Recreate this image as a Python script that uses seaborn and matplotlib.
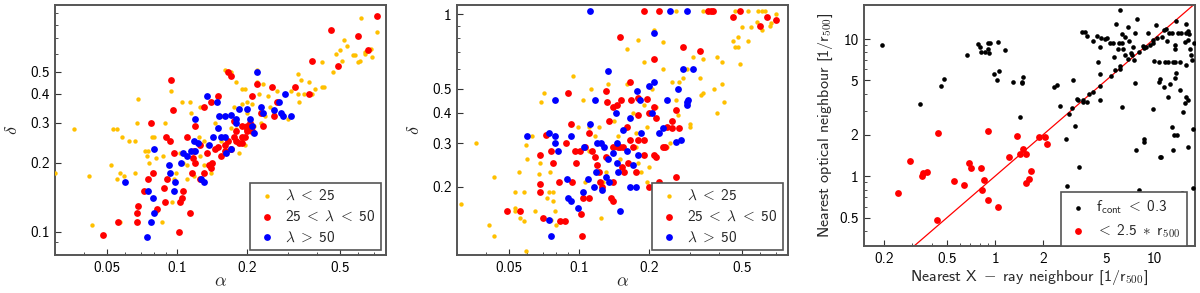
import numpy as np
import pandas as pd
import matplotlib
matplotlib.use("Agg")
import matplotlib.pyplot as plt
import seaborn as sns
from matplotlib.ticker import FixedLocator, FixedFormatter, LogLocator, NullFormatter

# ---------------- data ----------------
# Panel 1 (alpha vs delta)
p1_low_alpha = [0.030,0.036,0.042,0.043,0.053,0.055,0.052,0.055,0.057,0.059,0.058,0.057,0.062,0.066,0.067,0.068,0.066,0.073,0.075,0.074,0.078,0.080,0.076,0.081,0.089,0.086,0.095,0.081,0.087,0.094,0.105,0.114,0.115,0.125,0.099,0.103,0.106,0.110,0.12,0.124,0.125,0.135,0.14,0.145,0.155,0.155,0.16,0.16,0.17,0.17,0.18,0.19,0.195,0.175,0.19,0.2,0.2,0.21,0.21,0.22,0.22,0.225,0.235,0.245,0.25,0.26,0.27,0.30,0.31,0.33,0.33,0.34,0.335,0.35,0.37,0.38,0.39,0.42,0.42,0.43,0.47,0.48,0.50,0.51,0.52,0.54,0.57,0.58,0.60,0.61,0.62,0.64,0.64,0.68,0.69,0.72,0.13,0.15,0.17,0.18,0.19,0.195,0.165,0.185,0.125,0.13,0.14,0.11,0.118,0.097,0.215,0.23,0.24,0.21]
p1_low_delta = [0.18,0.28,0.175,0.107,0.28,0.28,0.195,0.17,0.18,0.175,0.26,0.11,0.25,0.25,0.30,0.38,0.18,0.225,0.225,0.215,0.26,0.26,0.20,0.21,0.30,0.11,0.135,0.122,0.215,0.41,0.37,0.37,0.33,0.35,0.18,0.22,0.20,0.195,0.20,0.26,0.24,0.24,0.37,0.30,0.32,0.25,0.23,0.51,0.50,0.48,0.45,0.42,0.42,0.35,0.36,0.37,0.33,0.39,0.36,0.45,0.51,0.40,0.44,0.39,0.35,0.33,0.41,0.31,0.41,0.40,0.49,0.46,0.37,0.40,0.45,0.40,0.42,0.55,0.43,0.43,0.50,0.60,0.62,0.56,0.69,0.65,0.59,0.59,0.55,0.56,0.86,0.60,0.61,0.63,0.58,0.75,0.25,0.28,0.285,0.28,0.25,0.24,0.225,0.22,0.215,0.195,0.18,0.17,0.175,0.17,0.29,0.30,0.32,0.27]
p1_mid_alpha = [0.048,0.056,0.067,0.067,0.068,0.072,0.075,0.077,0.079,0.082,0.088,0.089,0.090,0.091,0.093,0.094,0.096,0.097,0.102,0.103,0.105,0.106,0.11,0.114,0.116,0.117,0.12,0.12,0.125,0.13,0.13,0.14,0.14,0.145,0.15,0.155,0.16,0.165,0.17,0.165,0.175,0.18,0.185,0.19,0.195,0.2,0.205,0.21,0.22,0.23,0.235,0.255,0.26,0.27,0.32,0.37,0.38,0.46,0.49,0.60,0.66,0.72,0.15,0.16,0.17,0.18,0.19,0.2,0.2,0.21,0.21,0.125,0.118,0.135,0.142,0.137,0.19,0.175]
p1_mid_delta = [0.097,0.11,0.12,0.11,0.13,0.15,0.17,0.30,0.18,0.125,0.155,0.135,0.26,0.17,0.25,0.46,0.34,0.22,0.10,0.135,0.14,0.15,0.26,0.12,0.18,0.21,0.20,0.29,0.17,0.35,0.18,0.19,0.37,0.23,0.39,0.215,0.24,0.50,0.48,0.25,0.26,0.275,0.245,0.29,0.26,0.275,0.30,0.39,0.44,0.33,0.29,0.43,0.32,0.37,0.43,0.40,0.56,0.76,0.53,0.72,0.62,0.88,0.235,0.225,0.23,0.25,0.26,0.28,0.29,0.29,0.275,0.24,0.225,0.22,0.20,0.195,0.245,0.305]
p1_high_alpha = [0.074,0.075,0.077,0.079,0.080,0.080,0.060,0.092,0.093,0.097,0.098,0.104,0.106,0.11,0.115,0.118,0.12,0.12,0.123,0.127,0.13,0.135,0.137,0.143,0.15,0.152,0.155,0.16,0.16,0.163,0.17,0.17,0.18,0.18,0.185,0.2,0.205,0.21,0.215,0.22,0.23,0.235,0.26,0.275,0.28,0.285,0.29,0.31,0.148]
p1_high_delta = [0.095,0.15,0.11,0.14,0.23,0.12,0.165,0.195,0.18,0.15,0.165,0.20,0.22,0.215,0.225,0.25,0.31,0.225,0.245,0.17,0.165,0.39,0.24,0.26,0.285,0.32,0.26,0.32,0.26,0.22,0.325,0.23,0.31,0.30,0.345,0.345,0.31,0.29,0.27,0.50,0.35,0.33,0.34,0.37,0.33,0.32,0.40,0.32,0.37]

# Panel 2 (alpha vs delta, second estimator)
p2_low_alpha = [0.031,0.036,0.041,0.043,0.043,0.055,0.053,0.053,0.053,0.056,0.058,0.058,0.059,0.060,0.063,0.065,0.067,0.068,0.071,0.069,0.073,0.074,0.075,0.077,0.077,0.079,0.076,0.080,0.059,0.094,0.099,0.104,0.11,0.11,0.113,0.106,0.117,0.122,0.124,0.127,0.13,0.133,0.138,0.142,0.147,0.15,0.155,0.16,0.16,0.165,0.17,0.175,0.175,0.18,0.18,0.185,0.19,0.19,0.195,0.195,0.2,0.205,0.21,0.215,0.23,0.23,0.24,0.24,0.245,0.25,0.26,0.265,0.27,0.28,0.29,0.30,0.30,0.31,0.33,0.335,0.34,0.34,0.38,0.39,0.39,0.41,0.41,0.42,0.46,0.47,0.48,0.48,0.49,0.50,0.53,0.55,0.58,0.61,0.66,0.67,0.70,0.26,0.34,0.36,0.47,0.53,0.59,0.61,0.63]
p2_low_delta = [0.17,0.30,0.14,0.127,0.22,0.23,0.19,0.165,0.16,0.15,0.145,0.19,0.295,0.26,0.32,0.16,0.225,0.25,0.48,0.44,0.18,0.19,0.23,0.175,0.19,0.16,0.147,0.14,0.11,0.56,0.35,0.45,0.35,0.28,0.50,0.21,0.32,0.35,0.15,0.21,0.23,0.52,0.29,0.37,0.32,0.26,0.29,0.72,0.52,0.45,0.40,0.33,0.29,0.79,0.25,0.23,0.43,0.64,0.35,0.21,0.24,0.50,0.86,0.42,0.77,0.60,0.35,0.29,0.30,0.53,0.45,0.39,0.53,0.55,0.60,0.35,0.36,0.67,0.55,0.47,0.48,0.66,0.50,0.67,0.40,0.64,0.52,0.44,0.78,0.74,0.74,0.81,0.63,0.89,0.78,0.89,0.93,0.86,0.90,0.92,1.0,1.03,1.03,1.03,1.03,1.03,1.03,1.03,1.03]
p2_mid_alpha = [0.049,0.056,0.068,0.068,0.068,0.070,0.072,0.076,0.077,0.082,0.083,0.087,0.088,0.090,0.092,0.093,0.096,0.097,0.101,0.102,0.103,0.104,0.106,0.11,0.11,0.114,0.117,0.12,0.122,0.123,0.125,0.13,0.132,0.135,0.137,0.14,0.14,0.14,0.145,0.147,0.15,0.152,0.153,0.156,0.16,0.165,0.166,0.168,0.17,0.18,0.18,0.19,0.19,0.195,0.20,0.20,0.21,0.21,0.215,0.22,0.22,0.23,0.235,0.24,0.25,0.25,0.26,0.26,0.27,0.28,0.33,0.36,0.37,0.375,0.46,0.49,0.60,0.64,0.70,0.14,0.15,0.155,0.13,0.162,0.175,0.18,0.19,0.21,0.215]
p2_mid_delta = [0.16,0.16,0.27,0.205,0.19,0.15,0.325,0.28,0.25,0.21,0.145,0.145,0.30,0.48,0.36,0.21,0.28,0.25,0.28,0.155,0.127,0.18,0.29,0.33,0.18,0.28,0.265,0.245,0.23,0.21,0.20,0.49,0.44,0.37,0.18,0.175,0.21,0.42,0.43,0.29,0.81,0.45,0.24,0.23,0.35,0.53,0.31,0.45,0.29,0.46,0.39,1.03,0.27,0.455,0.40,0.20,0.42,0.66,0.38,1.03,0.21,0.29,0.29,0.35,0.345,0.37,0.41,0.22,0.345,0.74,0.71,1.03,1.03,1.03,0.97,1.03,0.90,0.97,0.95,0.29,0.29,0.29,0.265,0.25,0.23,0.31,0.31,0.27,0.265]
p2_high_alpha = [0.060,0.074,0.074,0.076,0.079,0.079,0.079,0.081,0.090,0.092,0.092,0.089,0.099,0.104,0.105,0.109,0.112,0.112,0.116,0.117,0.118,0.12,0.124,0.126,0.128,0.13,0.133,0.133,0.135,0.14,0.144,0.145,0.146,0.147,0.15,0.155,0.16,0.165,0.166,0.17,0.175,0.178,0.18,0.183,0.185,0.20,0.205,0.21,0.21,0.22,0.23,0.24,0.245,0.26,0.265,0.275,0.28,0.29,0.29,0.29,0.31,0.295]
p2_high_delta = [0.32,0.33,0.147,0.127,0.45,0.32,0.30,0.28,0.18,0.175,0.32,0.215,0.165,0.19,0.29,0.215,1.03,0.36,0.20,0.45,0.23,0.30,0.30,0.195,0.29,0.22,0.59,0.26,0.21,0.275,0.40,0.30,0.25,0.23,0.16,0.34,0.28,0.20,0.38,0.245,0.20,0.49,0.27,0.45,0.33,0.51,0.40,0.53,0.84,0.33,0.345,0.45,1.03,0.305,0.50,0.31,0.60,0.43,0.44,1.03,0.60,0.45]

# Panel 3 (nearest neighbours)
p3_all_xray = [0.196,0.338,0.458,0.48,0.665,0.786,0.80,0.816,0.866,0.90,0.90,0.93,0.92,0.99,1.03,1.05,1.06,1.16,1.29,1.43,1.47,1.48,1.50,2.34,2.44,2.56,2.78,2.82,2.9,3.06,3.1,3.2,3.3,3.33,3.38,3.53,3.67,3.8,3.8,3.6,4.15,4.15,4.4,4.45,4.55,4.6,4.55,4.6,4.67,4.9,5.05,5.27,5.5,5.6,5.75,5.9,6.0,6.1,6.15,6.25,6.25,6.3,6.4,6.6,6.6,6.85,7.0,7.15,7.3,7.4,7.5,7.6,7.6,7.8,7.75,8.0,8.1,8.5,8.6,8.7,8.7,8.9,9.2,9.4,9.8,9.8,9.8,10.0,10.3,10.5,10.7,10.8,10.9,10.9,11.1,11.3,11.5,11.6,11.7,11.9,12.0,12.2,12.3,12.4,12.7,12.9,13.0,13.1,13.2,13.4,13.5,13.5,13.6,13.6,13.7,13.8,14.0,14.1,14.5,14.5,14.7,15.0,15.2,15.6,15.7,15.8,16.0,16.0,16.0,16.3,16.4,16.4,16.4,16.6,16.9,17.1,17.4,17.6,17.7,17.8,6.9,6.1,5.4,5.7,3.6,3.9]
p3_all_optical = [9.0,3.35,4.55,5.1,7.7,9.2,8.7,8.0,8.0,9.3,8.5,9.3,7.9,5.6,5.0,9.5,5.8,8.3,4.9,2.7,4.9,4.8,5.3,4.45,4.65,3.24,1.86,0.85,2.86,3.12,5.0,2.31,3.63,3.6,1.16,11.2,11.3,10.6,3.45,3.5,4.13,9.6,10.6,6.8,8.7,5.55,4.55,3.6,10.1,10.0,10.1,9.4,9.4,7.4,12.9,8.4,9.4,16.4,6.05,3.17,10.9,9.4,8.4,10.3,7.7,12.3,9.6,7.9,7.7,8.8,7.05,4.75,11.1,14.1,1.54,0.79,8.0,8.9,8.6,1.77,1.88,8.8,11.1,9.1,9.3,9.8,3.1,6.9,12.7,10.1,6.85,4.9,5.1,1.38,1.38,10.3,4.5,11.6,6.85,11.9,9.6,3.8,6.85,11.1,4.7,11.1,2.29,6.85,1.54,1.99,9.1,6.85,5.2,8.4,13.5,5.7,1.99,11.1,6.85,4.25,11.1,0.76,2.95,9.45,3.4,6.5,12.9,11.1,3.8,1.63,3.6,9.8,11.4,10.9,8.4,7.7,7.05,2.22,0.82,9.35,7.2,6.4,5.4,5.95,3.6,3.95]
p3_close_xray = [0.245,0.29,0.345,0.35,0.375,0.43,0.44,0.55,0.64,0.69,0.71,0.82,0.83,0.85,0.90,0.90,1.04,1.23,1.38,1.43,1.50,1.56,1.56,1.64,1.68,1.89,2.06,2.13]
p3_close_optical = [0.75,1.29,1.0,1.06,1.07,0.48,2.07,0.92,0.87,1.25,1.15,1.15,0.79,0.94,2.14,0.67,0.60,1.39,1.97,1.44,1.57,1.44,0.89,0.96,1.09,1.93,1.93,1.71]

# labels and ticks
group_labels = [r"$\lambda\;<\;$25", r"25$\;<\;\lambda\;<\;$50", r"$\lambda\;>\;$50"]
p3_labels = [r"f$_\mathsf{cont}\;<\;$0.3", r"$<\;$2.5$\;\ast\;$r$_\mathsf{500}$"]
alpha_ticks = [0.05, 0.1, 0.2, 0.5]
alpha_ticklabels = ["0.05", "0.1", "0.2", "0.5"]
delta1_ticks = [0.1, 0.2, 0.3, 0.4, 0.5]
delta1_ticklabels = ["0.1", "0.2", "0.3", "0.4", "0.5"]
delta2_ticks = [0.2, 0.3, 0.4, 0.5, 1.0]
delta2_ticklabels = ["0.2", "0.3", "0.4", "0.5", "1"]
p3_xticks = [0.2, 0.5, 1, 2, 5, 10]
p3_xticklabels = ["0.2", "0.5", "1", "2", "5", "10"]
p3_yticks = [0.5, 1, 2, 5, 10]
p3_yticklabels = ["0.5", "1", "2", "5", "10"]

# ---------------- style ----------------
sns.set_style("ticks")
plt.rcParams["font.family"] = ["cmss10", "DejaVu Sans"]
plt.rcParams["mathtext.fontset"] = "cm"
plt.rcParams["axes.unicode_minus"] = False

C_YEL = "#FFC000"
C_RED = "#FF0000"
C_BLU = "#0000FF"
FRAME = "#555555"

fig = plt.figure(figsize=(12, 2.93), dpi=100)
ax1 = fig.add_axes([0.0458, 0.1297, 0.2758, 0.8533])
ax2 = fig.add_axes([0.3808, 0.1297, 0.2758, 0.8533])
ax3 = fig.add_axes([0.7200, 0.1604, 0.2758, 0.8225])


def style(ax, xlim, ylim, xt, xtl, yt, ytl):
    ax.set_xscale("log")
    ax.set_yscale("log")
    ax.set_xlim(*xlim)
    ax.set_ylim(*ylim)
    ax.xaxis.set_major_locator(FixedLocator(xt))
    ax.xaxis.set_major_formatter(FixedFormatter(xtl))
    ax.yaxis.set_major_locator(FixedLocator(yt))
    ax.yaxis.set_major_formatter(FixedFormatter(ytl))
    for a in (ax.xaxis, ax.yaxis):
        a.set_minor_locator(LogLocator(base=10, subs=np.arange(2, 10) * 1.0, numticks=50))
        a.set_minor_formatter(NullFormatter())
    ax.tick_params(which="both", direction="in", colors="#333333", labelcolor="black",
                   labelsize=11, top=False, right=False)
    ax.tick_params(which="major", length=4.5, width=0.8, pad=4)
    ax.tick_params(which="minor", length=2.4, width=0.6)
    for s in ax.spines.values():
        s.set_color(FRAME)
        s.set_linewidth(1.4)


def lam_panel(ax, groups, ylim, yt, ytl):
    sizes = [10, 24, 24]
    colors = [C_YEL, C_RED, C_BLU]
    for (xs, ys), lab, s, c in zip(groups, group_labels, sizes, colors):
        df = pd.DataFrame({"alpha": xs, "delta": ys})
        sns.scatterplot(data=df, x="alpha", y="delta", ax=ax, s=s, color=c,
                        linewidth=0, label=lab, zorder=3)
    style(ax, (0.0299, 0.79), ylim, alpha_ticks, alpha_ticklabels, yt, ytl)
    ax.set_xlabel(r"$\alpha$", fontsize=13, labelpad=0)
    ax.set_ylabel(r"$\delta$", fontsize=13, labelpad=7)
    leg = ax.legend(loc="lower right", fontsize=11, frameon=True, fancybox=False,
                    edgecolor=FRAME, framealpha=1, handletextpad=0.5, borderpad=0.4,
                    labelspacing=0.4, borderaxespad=0.3, handlelength=1.4, scatterpoints=1)
    leg.get_frame().set_linewidth(1.2)


lam_panel(ax1, [(p1_low_alpha, p1_low_delta), (p1_mid_alpha, p1_mid_delta),
                (p1_high_alpha, p1_high_delta)], (0.079, 0.98), delta1_ticks, delta1_ticklabels)
lam_panel(ax2, [(p2_low_alpha, p2_low_delta), (p2_mid_alpha, p2_mid_delta),
                (p2_high_alpha, p2_high_delta)], (0.106, 1.09), delta2_ticks, delta2_ticklabels)

# panel 3
df_all = pd.DataFrame({"xray": p3_all_xray, "optical": p3_all_optical})
df_close = pd.DataFrame({"xray": p3_close_xray, "optical": p3_close_optical})
sns.scatterplot(data=df_all, x="xray", y="optical", ax=ax3, s=11, color="black",
                linewidth=0, label=p3_labels[0], zorder=3)
sns.scatterplot(data=df_close, x="xray", y="optical", ax=ax3, s=24, color=C_RED,
                linewidth=0, label=p3_labels[1], zorder=3)
style(ax3, (0.15, 18.1), (0.31, 17.7), p3_xticks, p3_xticklabels, p3_yticks, p3_yticklabels)
ax3.axline((1, 1), (10, 10), color=C_RED, lw=0.9, zorder=2)
ax3.set_xlabel(r"Nearest X$\;-\;$ray neighbour [1/r$_\mathsf{500}$]", fontsize=11.5, labelpad=2)
ax3.set_ylabel(r"Nearest optical neighbour [1/r$_\mathsf{500}$]", fontsize=11.5, labelpad=3)
leg3 = ax3.legend(loc="lower right", bbox_to_anchor=(0.975, 0.0), fontsize=11, frameon=True,
                  fancybox=False, edgecolor=FRAME, framealpha=1, handletextpad=0.5,
                  borderpad=0.4, labelspacing=0.4, borderaxespad=0.0, handlelength=1.4,
                  scatterpoints=1)
leg3.get_frame().set_linewidth(1.2)

fig.savefig("out.png", dpi=100)
